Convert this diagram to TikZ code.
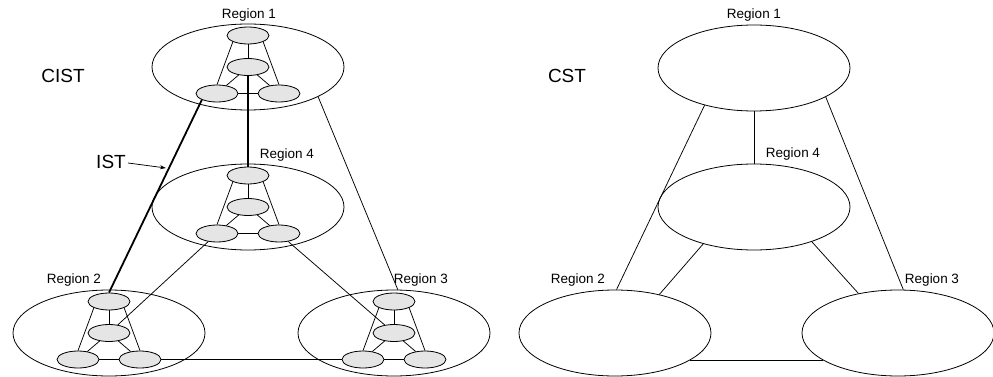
\documentclass[tikz,border=0pt]{standalone}
\usepackage{fontspec}
\setmainfont{Liberation Sans}
\usetikzlibrary{shapes.geometric,arrows.meta}
\newcommand{\minicluster}[3]{%
  \node[mini] (#1t) at (#2,#3-31.5) {};
  \node[mini] (#1m) at (#2,#3) {};
  \node[mini] (#1l) at (#2-31,#3+26.5) {};
  \node[mini] (#1r) at (#2+31,#3+26.5) {};
  \draw[thinln] (#1t) -- (#1m);
  \draw[thinln] (#1t.south west) -- (#1l.north);
  \draw[thinln] (#1t.south east) -- (#1r.north);
  \draw[thinln] (#1m) -- (#1l);
  \draw[thinln] (#1m) -- (#1r);
  \draw[thinln] (#1l) -- (#1r);
}
\tikzset{
  region/.style={draw, ellipse, line width=0.8pt, inner sep=0pt, minimum width=192pt, minimum height=86pt},
  mini/.style={draw, ellipse, fill=black!10, line width=0.8pt, inner sep=0pt, minimum width=42pt, minimum height=17pt},
  thinln/.style={line width=0.75pt},
  thickln/.style={line width=1.8pt},
  lbl/.style={font=\fontsize{13.5}{15}\selectfont, inner sep=0pt},
  big/.style={font=\fontsize{19}{21}\selectfont, inner sep=0pt}
}
\begin{document}
\begin{tikzpicture}[x=1pt,y=-1pt]
\useasboundingbox (0,0) rectangle (993,377);
% ---------- Left: CIST ----------
\node[region] (L1) at (248,67) {};
\node[region] (L4) at (248,207) {};
\node[region] (L2) at (109,333) {};
\node[region] (L3) at (394,333) {};
\minicluster{a}{248}{67}
\minicluster{d}{248}{207}
\minicluster{b}{109}{333}
\minicluster{c}{394}{333}
\node[lbl] (tL1) at (249,15) {Region 1};
\node[lbl] (tL4) at (287,155) {Region 4};
\node[lbl] (tL2) at (74,280) {Region 2};
\node[lbl] (tL3) at (421,280) {Region 3};
\node[big] (cist) at (63,76) {CIST};
\node[big] (ist) at (111,162) {IST};
% inter-region links
\draw[thickln] (am) -- (dt);
\draw[thickln] (al.south west) -- (bt.north);
\draw[thickln] (br) -- (cl);
\draw[thinln] (L1.-23) -- (L3.85);
\draw[thinln] (dl) -- (bm);
\draw[thinln] (dr) -- (cm);
\coordinate (istpt) at (166,168);
\draw[thinln,-{Stealth[length=6pt,width=4pt]}] (ist.east) ++(2,1) -- (istpt);
% ---------- Right: CST ----------
\node[region] (R1) at (754,68) {};
\node[region] (R4) at (754,207) {};
\node[region] (R2) at (615,333) {};
\node[region] (R3) at (898,333) {};
\node[lbl] (tR1) at (754,15) {Region 1};
\node[lbl] (tR4) at (793,154) {Region 4};
\node[lbl] (tR2) at (578,280) {Region 2};
\node[lbl] (tR3) at (932,280) {Region 3};
\node[big] (cst) at (567,76) {CST};
\draw[thinln] (R1.south) -- (R4.north);
\draw[thinln] (R1.-143.5) -- (R2.88);
\draw[thinln] (R1.-22.3) -- (R3.83);
\draw[thinln] (R4.-144) -- (R2.41);
\draw[thinln] (R4.-31.7) -- (R3.135);
\draw[thinln] (R2.-20) -- (R3.-160);
\end{tikzpicture}
\end{document}
